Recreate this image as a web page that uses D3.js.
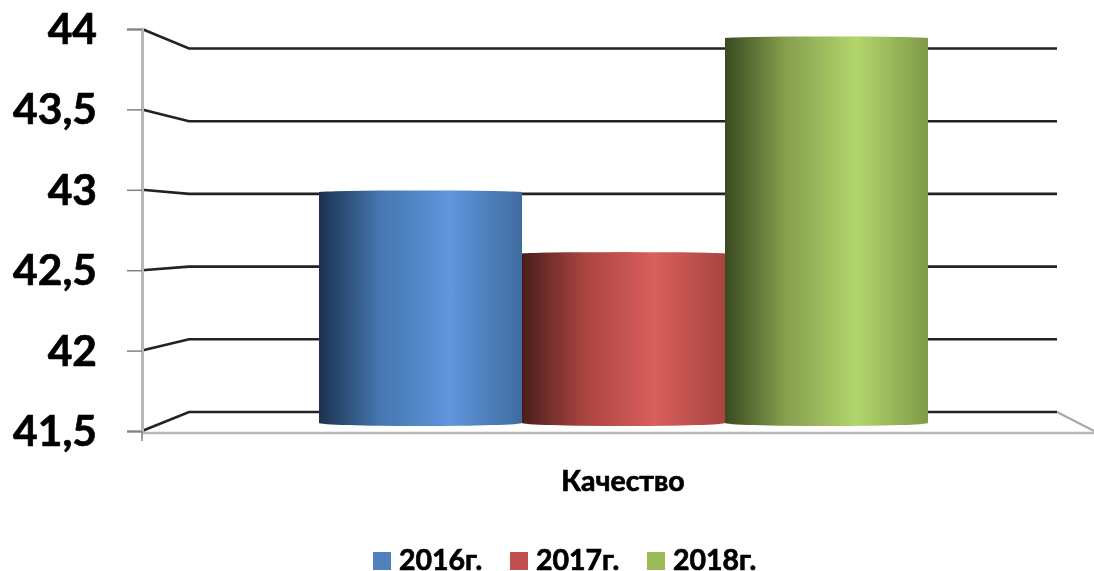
<!DOCTYPE html>
<html>
<head>
<meta charset="utf-8">
<script src="https://cdn.jsdelivr.net/npm/d3@7"></script>
<style>
  html, body { margin: 0; padding: 0; background: #fff; }
  svg { display: block; }
  text { font-family: Lato, "Open Sans", sans-serif; font-weight: 700; fill: #000; stroke: #000; stroke-width: 0.7px; }
</style>
</head>
<body>
<div id="chart"></div>
<script>
// 3D-look cylinder columns, one category, three years
const categories = ["Качество"];
const years = ["2016г.", "2017г.", "2018г."];
const values = [43, 42.6, 44];
const ticks = [41.5, 42, 42.5, 43, 43.5, 44];
const legendColors = ["#4f81bd", "#c0504d", "#9bbb59"];
// dark edge, mid, highlight, right edge
const shades = [
  ["#1c324f", "#4577b0", "#5f96dc", "#3f6b9f"],
  ["#4a1e1c", "#a8433f", "#d95f5c", "#a84540"],
  ["#3a4a20", "#86a04e", "#b2d56c", "#7f9a48"]
];

const width = 1094, height = 571;
const svg = d3.select("#chart").append("svg").attr("width", width).attr("height", height);
const defs = svg.append("defs");

// reference is a slightly upscaled bitmap, so soften everything a touch
defs.append("filter").attr("id", "soft")
  .attr("x", 0).attr("y", 0).attr("width", 1).attr("height", 1)
  .attr("filterUnits", "userSpaceOnUse")
  .attr("width", width).attr("height", height)
  .append("feGaussianBlur").attr("stdDeviation", 0.55);
const root = svg.append("g").attr("filter", "url(#soft)");

// three planes: axis in front, back wall, plane the columns stand on
const yAxis = d3.scaleLinear().domain([41.5, 44]).range([431, 29]);
const yWall = d3.scaleLinear().domain([41.5, 44]).range([412, 48.5]);
const yBar = d3.scaleLinear().domain([41.5, 44]).range([423, 38]);
const x = d3.scaleBand().domain(years).range([319, 928]);
const xCat = d3.scaleBand().domain(categories).range([142, 1104]);
const axisX = 142, wallL = 189, wallR = 1057, floorR = 1094;

// floor and right edge
const floor = root.append("g");
floor.append("line").attr("x1", axisX).attr("x2", floorR)
  .attr("y1", yAxis(41.5) + 2).attr("y2", yAxis(41.5) + 2)
  .attr("stroke", "#b8b8b8").attr("stroke-width", 2.5);
floor.append("line").attr("x1", wallR).attr("y1", yWall(41.5))
  .attr("x2", floorR).attr("y2", yAxis(41.5))
  .attr("stroke", "#a8a8a8").attr("stroke-width", 2);

// gridlines bend from the axis to the back wall
const grid = d3.line();
root.append("g").selectAll("path").data(ticks).join("path")
  .attr("fill", "none").attr("stroke", "#222").attr("stroke-width", 2.6)
  .attr("d", t => grid([[axisX, yAxis(t)], [wallL, yWall(t)], [wallR, yWall(t)]]));

// y axis
const gY = root.append("g").attr("transform", `translate(${axisX},0)`)
  .call(d3.axisLeft(yAxis).tickValues(ticks).tickSize(15).tickPadding(30)
    .tickFormat(d => String(d).replace(".", ",")));
gY.select(".domain").attr("stroke", "#b8b8b8").attr("stroke-width", 3);
gY.selectAll(".tick line").attr("stroke", "#808080").attr("stroke-width", 1.5);
gY.selectAll(".tick text").attr("font-size", 42.5).attr("dy", "0.34em")
  .style("font-family", "Lato, sans-serif").style("font-weight", 700);

// category axis
const gX = root.append("g").attr("transform", `translate(0,${yAxis(41.5)})`)
  .call(d3.axisBottom(xCat).tickSize(0).tickPadding(40));
gX.select(".domain").remove();
gX.selectAll(".tick text").attr("font-size", 28.5)
  .style("font-family", "Lato, sans-serif").style("font-weight", 700);
root.append("line").attr("x1", axisX).attr("x2", axisX)
  .attr("y1", yAxis(41.5)).attr("y2", yAxis(41.5) + 10)
  .attr("stroke", "#808080").attr("stroke-width", 1.5);

// columns
years.forEach((yr, i) => {
  const g = defs.append("linearGradient").attr("id", `cyl${i}`)
    .attr("x1", 0).attr("x2", 1).attr("y1", 0).attr("y2", 0);
  [0, 0.3, 0.65, 1].forEach((o, j) => g.append("stop")
    .attr("offset", o).attr("stop-color", shades[i][j]));
});

root.append("g").selectAll("path").data(values).join("path")
  .attr("fill", (d, i) => `url(#cyl${i})`)
  .attr("d", (d, i) => {
    const x0 = x(years[i]), x1 = x0 + x.bandwidth(), rx = x.bandwidth() / 2;
    const top = yBar(d), base = yBar(41.5);
    return `M${x0},${top}A${rx},1.5 0 0 1 ${x1},${top}L${x1},${base}A${rx},3 0 0 1 ${x0},${base}Z`;
  });

// legend
const legendX = d3.scalePoint().domain(years).range([373, 647]);
const legend = root.append("g").selectAll("g").data(years).join("g")
  .attr("transform", d => `translate(${legendX(d)},552)`);
legend.append("rect").attr("width", 18).attr("height", 18)
  .attr("fill", (d, i) => legendColors[i]);
legend.append("text").attr("x", 26).attr("y", 18).attr("font-size", 28.5).text(d => d);
</script>
</body>
</html>
